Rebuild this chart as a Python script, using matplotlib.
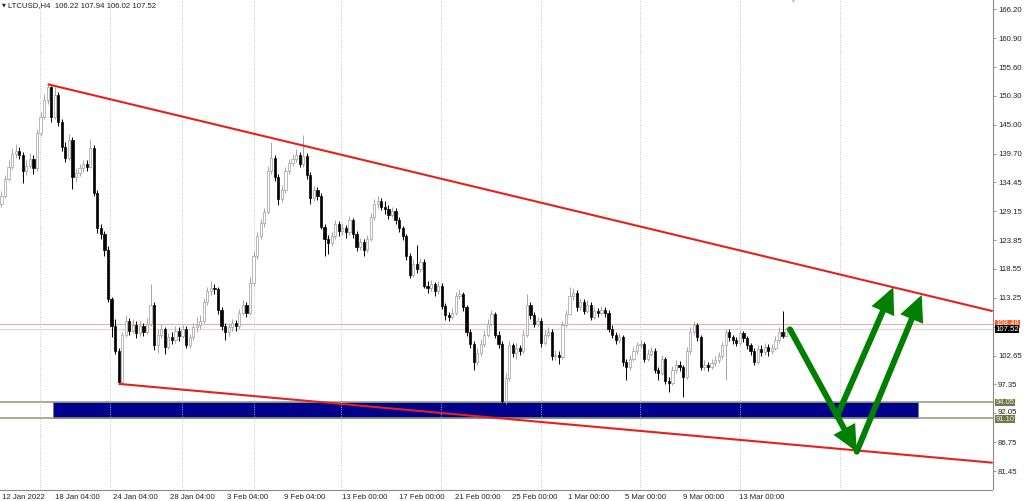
import matplotlib
matplotlib.use('Agg')
import matplotlib.pyplot as plt
import matplotlib.transforms as mtransforms
from matplotlib.patches import Rectangle, FancyArrowPatch, ArrowStyle
import numpy as np

plt.rcParams['font.family'] = ['Liberation Sans', 'DejaVu Sans']

# ---------------- data (LTCUSD H4 candles, bar index 0..221) ----------------
first_open = 130.5
closes = [132.0, 135.0, 137.2, 139.6, 140.2, 139.5, 136.5, 137.5, 138.8, 137.0,
          143.5, 146.5, 149.5, 152.0, 146.5, 150.5, 145.5, 141.0, 139.0, 142.3,
          135.5, 136.2, 137.0, 137.8, 137.3, 140.8, 132.5, 126.0, 125.0, 122.0,
          113.0, 108.0, 103.5, 97.8, 106.5, 109.0, 107.2, 108.3, 106.8, 108.0,
          107.0, 108.5, 112.0, 104.5, 106.5, 107.5, 104.3, 106.0, 105.5, 107.2,
          106.2, 107.5, 104.6, 106.0, 107.8, 108.2, 109.0, 112.5, 114.5, 115.0,
          114.8, 111.0, 108.0, 107.0, 107.8, 108.6, 108.0, 110.5, 112.0, 110.5,
          116.0, 121.0, 124.5, 127.0, 129.0, 136.5, 139.0, 135.5, 131.3, 133.0,
          136.5, 138.0, 138.8, 139.5, 137.8, 139.3, 135.8, 131.5, 133.0, 132.0,
          126.3, 124.0, 123.3, 124.5, 126.8, 125.5, 126.0, 125.3, 127.5, 125.0,
          122.5, 123.5, 122.0, 124.0, 128.0, 130.5, 131.0, 130.0, 129.5, 128.5,
          129.2, 127.5, 126.0, 124.5, 121.0, 117.5, 119.5, 118.5, 119.8, 115.5,
          115.0, 115.8, 114.5, 115.5, 111.8, 110.0, 109.8, 110.5, 113.5, 114.0,
          111.5, 107.0, 104.8, 101.5, 103.2, 104.8, 106.5, 108.5, 110.2, 106.5,
          104.8, 94.3, 98.5, 104.5, 103.2, 104.0, 103.5, 106.5, 112.0, 110.0,
          108.5, 109.0, 105.0, 106.5, 107.0, 102.5, 102.8, 102.3, 108.3, 110.3,
          113.5, 114.2, 111.5, 112.5, 110.8, 112.0, 109.8, 110.8, 110.5, 111.0,
          110.5, 107.5, 106.5, 105.5, 106.0, 101.5, 100.5, 102.0, 103.5, 104.5,
          104.8, 102.0, 103.0, 103.5, 100.0, 99.5, 102.0, 98.0, 97.6, 100.0,
          101.0, 100.5, 98.8, 103.5, 107.0, 108.3, 106.0, 100.6, 101.0, 100.6,
          101.2, 101.8, 102.5, 104.5, 107.0, 106.0, 105.5, 105.0, 106.7, 105.8,
          104.5, 103.5, 101.5, 103.8, 103.3, 104.2, 103.5, 104.0, 105.5, 107.0,
          106.22, 107.52]
highs = [132.8, 135.8, 138.5, 140.8, 141.5, 141.0, 140.0, 138.6, 139.8, 139.5,
         144.2, 147.3, 150.6, 152.6, 152.2, 151.9, 151.0, 146.0, 141.8, 143.3,
         142.8, 137.0, 137.8, 138.5, 138.6, 142.4, 141.3, 133.0, 126.8, 125.6,
         122.8, 113.4, 109.3, 104.0, 107.0, 110.0, 109.6, 109.3, 108.9, 108.9,
         108.7, 109.5, 115.8, 112.5, 107.6, 108.5, 107.9, 106.8, 106.9, 108.0,
         107.8, 108.3, 108.0, 106.6, 108.6, 109.8, 110.0, 113.2, 115.3, 116.3,
         115.8, 115.3, 111.5, 108.6, 108.7, 109.3, 109.2, 111.2, 112.8, 112.4,
         117.0, 121.8, 125.3, 127.8, 129.8, 137.5, 141.8, 139.5, 136.0, 134.0,
         137.3, 138.8, 139.6, 140.5, 140.0, 143.1, 139.8, 136.3, 133.8, 133.6,
         132.5, 126.8, 124.8, 125.3, 127.6, 127.3, 126.9, 126.7, 128.3, 127.9,
         125.6, 124.3, 124.0, 124.8, 128.8, 131.3, 131.9, 131.6, 131.0, 130.2,
         130.0, 129.7, 128.0, 126.5, 125.0, 121.5, 120.3, 122.9, 120.6, 120.3,
         116.3, 116.6, 116.2, 116.3, 116.0, 112.3, 110.7, 111.3, 114.3, 114.8,
         114.4, 112.0, 107.5, 105.3, 104.0, 105.6, 107.3, 109.3, 111.0, 110.6,
         107.2, 105.3, 99.5, 105.3, 105.0, 104.9, 104.6, 107.3, 114.0, 112.5,
         110.6, 109.8, 109.5, 107.3, 107.8, 107.5, 103.6, 103.4, 108.9, 111.0,
         115.2, 115.0, 114.7, 113.3, 113.0, 112.8, 112.4, 111.6, 111.4, 111.8,
         111.6, 111.0, 108.2, 107.0, 106.8, 106.4, 102.0, 102.7, 104.2, 105.2,
         105.5, 105.2, 103.8, 104.3, 104.0, 100.6, 102.8, 102.4, 98.8, 100.8,
         101.8, 101.6, 101.0, 104.2, 107.8, 109.0, 108.7, 106.5, 101.8, 101.5,
         102.0, 102.6, 103.3, 105.2, 107.6, 107.6, 106.5, 106.0, 107.3, 107.2,
         106.2, 105.0, 104.0, 104.5, 104.6, 105.0, 104.8, 104.8, 106.2, 107.8,
         110.9, 107.94]
lows = [130.0, 131.5, 134.6, 136.8, 138.9, 138.8, 134.3, 135.8, 137.0, 136.0,
        136.6, 143.0, 146.0, 148.8, 145.6, 146.0, 144.8, 140.2, 138.2, 138.6,
        133.3, 134.5, 135.6, 136.4, 136.5, 137.0, 132.0, 125.2, 124.0, 121.0,
        112.4, 106.0, 103.0, 97.4, 97.5, 106.0, 106.4, 106.8, 105.9, 106.3,
        106.2, 106.6, 108.0, 103.6, 103.2, 105.8, 103.0, 103.8, 104.8, 105.0,
        105.4, 105.8, 104.0, 104.1, 105.5, 107.0, 107.5, 108.6, 112.0, 113.8,
        113.9, 110.3, 107.3, 105.5, 106.3, 107.2, 107.2, 107.6, 110.0, 109.8,
        110.1, 115.5, 120.4, 124.0, 126.2, 128.6, 136.0, 134.6, 130.3, 130.8,
        132.5, 135.9, 137.4, 138.2, 137.2, 137.3, 135.0, 130.5, 131.0, 131.2,
        125.8, 121.0, 121.2, 122.8, 124.0, 124.6, 124.8, 124.3, 124.8, 124.3,
        121.8, 122.0, 121.0, 121.6, 123.6, 127.6, 129.8, 129.4, 128.7, 127.8,
        128.0, 126.8, 125.3, 123.8, 120.2, 116.8, 117.0, 117.8, 118.0, 115.0,
        114.2, 114.5, 113.6, 114.0, 111.2, 109.2, 109.0, 109.3, 110.0, 113.0,
        110.8, 106.3, 104.0, 100.0, 101.0, 102.6, 104.3, 106.0, 108.0, 105.8,
        104.0, 93.3, 93.8, 98.0, 102.4, 102.0, 102.7, 103.0, 106.0, 109.3,
        107.8, 108.0, 104.3, 104.6, 106.0, 101.9, 101.8, 101.1, 102.0, 107.8,
        110.0, 112.8, 110.9, 111.0, 110.2, 110.4, 109.2, 109.4, 109.8, 110.0,
        109.8, 107.0, 105.8, 104.8, 105.0, 100.8, 98.1, 100.0, 101.6, 103.0,
        104.0, 101.5, 101.6, 102.6, 99.4, 98.2, 99.0, 97.5, 95.9, 97.2,
        99.5, 99.8, 95.0, 98.4, 103.0, 106.5, 105.4, 100.0, 100.0, 99.9,
        100.1, 100.8, 101.3, 102.0, 98.1, 105.4, 104.8, 104.4, 104.6, 105.2,
        103.9, 102.8, 100.9, 101.1, 102.5, 102.8, 102.6, 103.0, 103.6, 105.0,
        105.8, 106.02]

header = "LTCUSD,H4  106.22 107.94 106.02 107.52"
x_labels = ["12 Jan 2022", "18 Jan 04:00", "24 Jan 04:00", "28 Jan 04:00",
            "3 Feb 04:00", "9 Feb 04:00", "13 Feb 00:00", "17 Feb 00:00",
            "21 Feb 00:00", "25 Feb 00:00", "1 Mar 00:00", "5 Mar 00:00",
            "9 Mar 00:00", "13 Mar 00:00"]
x_label_bars = [0.1, 15.1, 31.4, 47.5, 63.5, 79.6, 95.9, 112.0, 127.7,
                143.8, 159.6, 175.6, 192.0, 207.7]
grid_bars = [10.85, 30.56, 50.85, 71.13, 95.63, 123.8, 151.97, 179.86, 208.03, 236.2]
y_ticks = [166.20, 160.90, 155.60, 150.30, 145.00, 139.70, 134.45, 129.15,
           123.85, 118.55, 113.25, 107.95, 102.65, 97.35, 92.05, 86.75, 81.45]
hidden_tick = 107.95   # covered by the bid tag in the reference
squeezed_tick = 92.05  # sits between the two zone tags

ask_price = 108.48
bid_price = 107.52
zone_top = 94.05
zone_bottom = 91.10
zone_bars = [14.6, 258.3]

upper_trend = ([13.0, 279.2], [152.45, 110.8])
lower_trend = ([33.0, 279.2], [97.45, 82.98])

green_arrows = [((222.1, 107.46), (240.9, 85.0)),
                ((240.9, 85.0), (259.2, 113.76)),
                ((235.3, 91.42), (251.2, 115.17))]

# ---------------- figure ----------------
W, H = 1024, 501
fig = plt.figure(figsize=(W / 100, H / 100), dpi=100)
fig.patch.set_facecolor('white')
ax = fig.add_axes([0, 11.5 / H, 992.5 / W, 489.5 / H])
ax.set_facecolor('white')
ax.set_xlim(-0.42, 279.15)
ax.set_ylim(78.06, 167.91)

c = np.array(closes)
h = np.array(highs)
l = np.array(lows)
o = np.concatenate([[first_open], c[:-1]])
idx = np.arange(len(c))
bull = c >= o
bear = ~bull

# zone rectangle (background)
ax.add_patch(Rectangle((zone_bars[0], zone_bottom), zone_bars[1] - zone_bars[0],
                       zone_top - zone_bottom, facecolor='#00008c',
                       edgecolor='#6d7a8a', lw=0.6, zorder=1))
for p in (zone_top, zone_bottom):
    ax.axhline(p, color='#8f9a74', lw=1.1, zorder=1.2)

# grid
for g in grid_bars:
    ax.axvline(g, color='#c4c4c4', lw=0.7, ls=(0, (1, 1.5)), zorder=1.5)

# ask / bid lines
ax.axhline(ask_price, color='#e3b2a4', lw=0.8, zorder=1.6)
ax.axhline(bid_price, color='#d8d8d8', lw=0.8, zorder=1.6)

# candles
ax.vlines(idx[bull], l[bull], h[bull], color='#a6a6a6', lw=0.7, zorder=3)
ax.vlines(idx[bear], l[bear], h[bear], color='black', lw=0.7, zorder=3)
ax.bar(idx[bull], (c - o)[bull], bottom=o[bull], width=0.62, color='white',
       edgecolor='#9c9c9c', lw=0.5, zorder=4)
ax.bar(idx[bear], (c - o)[bear], bottom=o[bear], width=0.62, color='black',
       edgecolor='black', lw=0.5, zorder=4)

# trend lines
ax.plot(upper_trend[0], upper_trend[1], color='#e8201c', lw=1.5, zorder=5,
        solid_capstyle='butt')
ax.plot(lower_trend[0], lower_trend[1], color='#e8201c', lw=1.5, zorder=5,
        solid_capstyle='butt')

# green arrows
for (p0, p1) in green_arrows:
    arr = FancyArrowPatch(p0, p1, arrowstyle=ArrowStyle('-|>', head_length=1.05,
                                                        head_width=0.5),
                          mutation_scale=11, lw=4.3, color='#008000',
                          shrinkA=0, shrinkB=0, zorder=6, joinstyle='miter')
    ax.add_patch(arr)

# spines
for s in ('top', 'left'):
    ax.spines[s].set_visible(False)
for s in ('right', 'bottom'):
    ax.spines[s].set_color('#8a8a8a')
    ax.spines[s].set_linewidth(0.8)

# y ticks on right
ax.yaxis.tick_right()
ax.set_yticks(y_ticks)
ax.set_yticklabels(["" if v == hidden_tick else f"{v:.2f}" for v in y_ticks])
ax.tick_params(axis='y', length=2.5, width=0.6, color='#8a8a8a', pad=1.5,
               labelsize=5.6, labelcolor='#222222')
up = mtransforms.ScaledTranslation(0, 1.6 / 72, fig.dpi_scale_trans)
for v, lab in zip(y_ticks, ax.get_yticklabels()):
    if v == squeezed_tick:
        lab.set_transform(lab.get_transform() + up)

# x labels
ax.set_xticks(x_label_bars)
ax.set_xticklabels(x_labels)
for t in ax.get_xticklabels():
    t.set_horizontalalignment('left')
ax.tick_params(axis='x', length=0, pad=3, labelsize=5.6, labelcolor='#222222')

# price tags on the right
tr = mtransforms.blended_transform_factory(ax.transAxes, ax.transData)
def tag(price, text, fc, tc, z, fs=5.6):
    ax.text(1.0028, price, text, transform=tr, ha='left', va='center',
            fontsize=fs, color=tc, clip_on=False, zorder=z,
            bbox=dict(boxstyle='square,pad=0.05', fc=fc, ec='none'))

tag(ask_price, f"{ask_price:.2f}", '#ff5a1e', 'white', 10)
tag(bid_price, f"{bid_price:.2f}", 'black', 'white', 11)
tag(zone_top, f"{zone_top:.2f}", '#6b7a49', '#eef0e0', 10, 5.4)
tag(zone_bottom - 0.12, f"{zone_bottom:.2f}", '#6b7a49', '#eef0e0', 10, 5.4)

# header
ax.text(0.0015, 0.989, "\u25BC", transform=ax.transAxes, ha='left', va='center',
        fontsize=3.6, color='#222222', family=['DejaVu Sans'])
ax.text(0.0085, 0.989, header, transform=ax.transAxes, ha='left', va='center',
        fontsize=5.6, color='#222222')

# chart shift marker at top
ax.plot([223.0], [167.91], marker='v', ms=5, color='#c8c8c8', clip_on=False,
        zorder=7, mec='none')

fig.savefig('out.png', dpi=100, facecolor='white')
